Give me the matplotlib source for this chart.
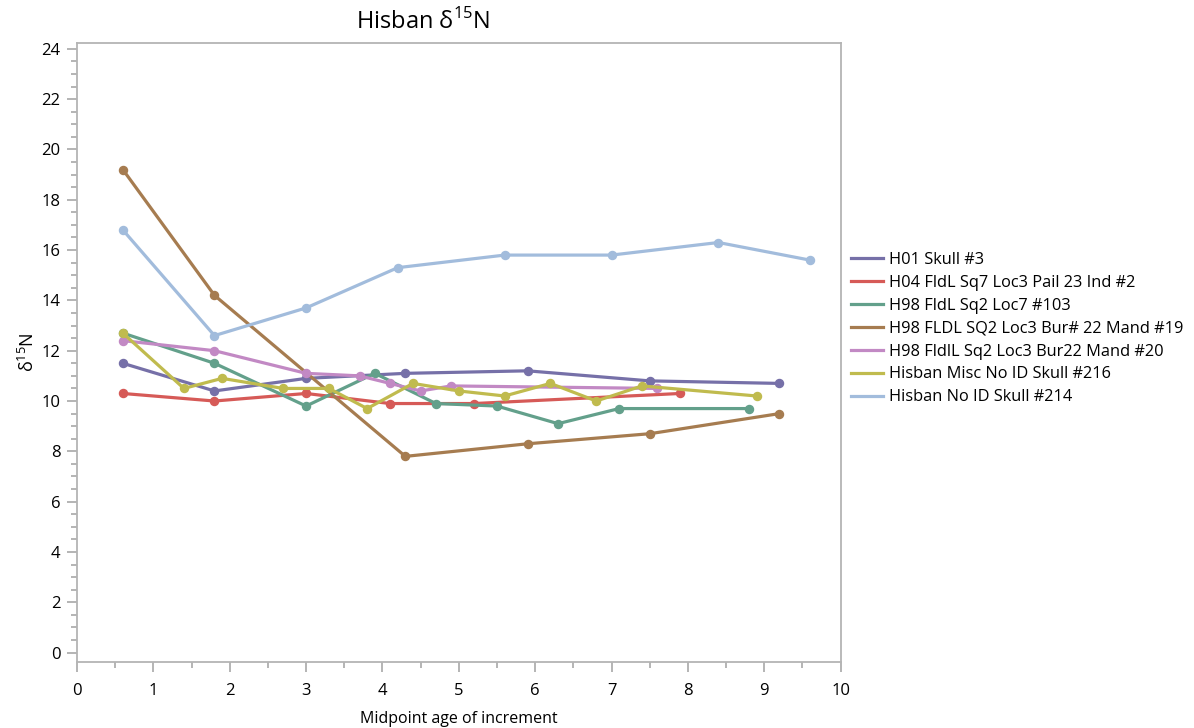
import matplotlib
matplotlib.use("Agg")
import matplotlib.pyplot as plt
from matplotlib.ticker import MultipleLocator

plt.rcParams["font.family"] = ["Open Sans", "DejaVu Sans"]
plt.rcParams["mathtext.fontset"] = "custom"
plt.rcParams["mathtext.rm"] = "Open Sans"

# midpoint age (x) and d15N (y) for each individual
h01_x = [0.6, 1.8, 3.0, 4.3, 5.9, 7.5, 9.2]
h01_y = [11.5, 10.4, 10.9, 11.1, 11.2, 10.8, 10.7]

h04_x = [0.6, 1.8, 3.0, 4.1, 5.2, 7.9]
h04_y = [10.3, 10.0, 10.3, 9.9, 9.9, 10.3]

h98_103_x = [0.6, 1.8, 3.0, 3.9, 4.7, 5.5, 6.3, 7.1, 8.8]
h98_103_y = [12.7, 11.5, 9.8, 11.1, 9.9, 9.8, 9.1, 9.7, 9.7]

h98_19_x = [0.6, 1.8, 4.3, 5.9, 7.5, 9.2]
h98_19_y = [19.2, 14.2, 7.8, 8.3, 8.7, 9.5]

h98_20_x = [0.6, 1.8, 3.0, 3.7, 4.1, 4.5, 4.9, 7.6]
h98_20_y = [12.4, 12.0, 11.1, 11.0, 10.7, 10.4, 10.6, 10.5]

misc_216_x = [0.6, 1.4, 1.9, 2.7, 3.3, 3.8, 4.4, 5.0, 5.6, 6.2, 6.8, 7.4, 8.9]
misc_216_y = [12.7, 10.5, 10.9, 10.5, 10.5, 9.7, 10.7, 10.4, 10.2, 10.7, 10.0, 10.6, 10.2]

noid_214_x = [0.6, 1.8, 3.0, 4.2, 5.6, 7.0, 8.4, 9.6]
noid_214_y = [16.8, 12.6, 13.7, 15.3, 15.8, 15.8, 16.3, 15.6]

labels = [
    "H01 Skull #3",
    "H04 FldL Sq7 Loc3 Pail 23 Ind #2",
    "H98 FldL Sq2 Loc7 #103",
    "H98 FLDL SQ2 Loc3 Bur# 22 Mand #19",
    "H98 FldlL Sq2 Loc3 Bur22 Mand #20",
    "Hisban Misc No ID Skull #216",
    "Hisban No ID Skull #214",
]
colors = ["#7670a8", "#d65a57", "#63a08b", "#a67c50", "#c289c4", "#c0bb4e", "#a2bcdc"]
xs = [h01_x, h04_x, h98_103_x, h98_19_x, h98_20_x, misc_216_x, noid_214_x]
ys = [h01_y, h04_y, h98_103_y, h98_19_y, h98_20_y, misc_216_y, noid_214_y]

fig = plt.figure(figsize=(11.94, 7.28), dpi=100)
ax = fig.add_axes([0.0645, 0.0911, 0.6395, 0.8502])

handles = []
for x, y, c, lab in zip(xs, ys, colors, labels):
    ax.plot(x, y, color=c, lw=2.3, marker="o", ms=5.8, solid_capstyle="round")
    handles.append(plt.Line2D([], [], color=c, lw=2.3, label=lab))

ax.set_xlim(0, 10)
ax.set_ylim(-0.36, 24.24)
ax.xaxis.set_major_locator(MultipleLocator(1))
ax.xaxis.set_minor_locator(MultipleLocator(0.5))
ax.yaxis.set_major_locator(MultipleLocator(2))
ax.yaxis.set_minor_locator(MultipleLocator(0.5))

for s in ax.spines.values():
    s.set_color("#b4b4b4")
    s.set_linewidth(1.3)
ax.tick_params(which="major", length=7, width=1.1, color="#a0a0a0", labelsize=12, pad=5)
ax.tick_params(which="minor", length=4, width=1.1, color="#a0a0a0")
ax.tick_params(axis="x", pad=8)

ax.set_xlabel("Midpoint age of increment", fontsize=11.5, labelpad=9)
ax.set_ylabel("δ$^{15}$N", fontsize=13, labelpad=2)
fig.text(0.354, 1 - 22 / 728, "Hisban δ$^{15}$N", fontsize=17, ha="center", va="center")

fig.legend(handles=handles, loc="upper left", bbox_to_anchor=(851 / 1194, 1 - 252 / 728),
           frameon=False, fontsize=11.8, handlelength=1.95, handletextpad=0.35,
           labelspacing=0.42, borderpad=0, borderaxespad=0)

fig.savefig("out.png", dpi=100)
